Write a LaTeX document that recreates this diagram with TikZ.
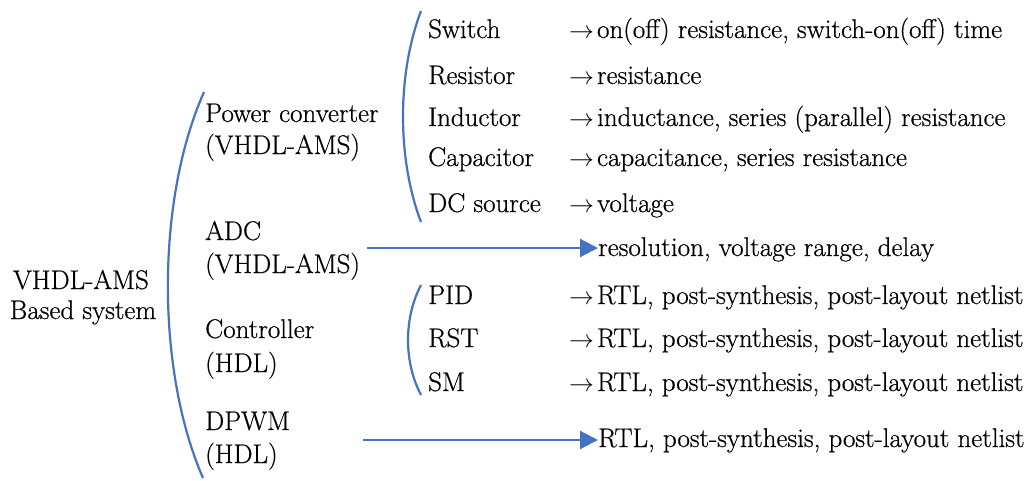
\documentclass[tikz,border=0pt]{standalone}
\usepackage{fontspec}
\setmainfont{Latin Modern Roman}[FakeBold=0.6]
\usetikzlibrary{arrows.meta}
\definecolor{lineblue}{HTML}{4472C4}
\newcommand{\ra}{$\rightarrow$\kern3pt}
\begin{document}
\begin{tikzpicture}[x=1pt,y=-1pt,
 txt/.style={anchor=base west,inner sep=0pt,font=\fontsize{27}{30}\selectfont},
 ctxt/.style={anchor=base,inner sep=0pt,font=\fontsize{27}{30}\selectfont},
 brace/.style={draw=lineblue,line width=2.2pt},
 conn/.style={draw=lineblue,line width=2.2pt,-{Triangle[length=18pt,width=18pt]}}]
\useasboundingbox (0,0) rectangle (1027,480);
% root
\node[ctxt] (root1) at (81,289) {VHDL-AMS};
\node[ctxt] (root2) at (83,319) {Based system};
% level 1
\node[txt] (pc1) at (205,122) {Power converter};
\node[txt] (pc2) at (205,154) {(VHDL-AMS)};
\node[txt] (adc1) at (205,240) {ADC};
\node[txt] (adc2) at (205,273) {(VHDL-AMS)};
\node[txt] (ct1) at (205,338) {Controller};
\node[txt] (ct2) at (205,372) {(HDL)};
\node[txt] (dp1) at (205,430) {DPWM};
\node[txt] (dp2) at (205,463) {(HDL)};
% power converter parts
\node[txt] (sw) at (428,38) {Switch};
\node[txt] (rs) at (428,84) {Resistor};
\node[txt] (in) at (428,126) {Inductor};
\node[txt] (ca) at (428,166) {Capacitor};
\node[txt] (dc) at (428,212) {DC source};
\node[txt] (swp) at (569,38) {\ra on(off) resistance, switch-on(off) time};
\node[txt] (rsp) at (569,84) {\ra resistance};
\node[txt] (inp) at (569,126) {\ra inductance, series (parallel) resistance};
\node[txt] (cap) at (569,166) {\ra capacitance, series resistance};
\node[txt] (dcp) at (569,212) {\ra voltage};
% adc
\node[txt] (adcp) at (598,256) {resolution, voltage range, delay};
% controller
\node[txt] (pid) at (428,304) {PID};
\node[txt] (rst) at (428,347) {RST};
\node[txt] (sm) at (428,391) {SM};
\node[txt] (pidp) at (569,304) {\ra RTL, post-synthesis, post-layout netlist};
\node[txt] (rstp) at (569,347) {\ra RTL, post-synthesis, post-layout netlist};
\node[txt] (smp) at (569,391) {\ra RTL, post-synthesis, post-layout netlist};
% dpwm
\node[txt] (dpp) at (598,447) {RTL, post-synthesis, post-layout netlist};
% brackets
\draw[brace] (204,92) .. controls (156,200) and (156,370) .. (203,478);
\draw[brace] (421,11) .. controls (397,74) and (397,159) .. (421,222);
\draw[brace] (421,285) .. controls (403.7,318) and (403.7,362) .. (421,395);
% arrows
\coordinate (a1s) at (367,248);
\coordinate (a2s) at (363,440);
\draw[conn] (a1s) -- (adcp.west |- a1s);
\draw[conn] (a2s) -- (dpp.west |- a2s);
\end{tikzpicture}
\end{document}
